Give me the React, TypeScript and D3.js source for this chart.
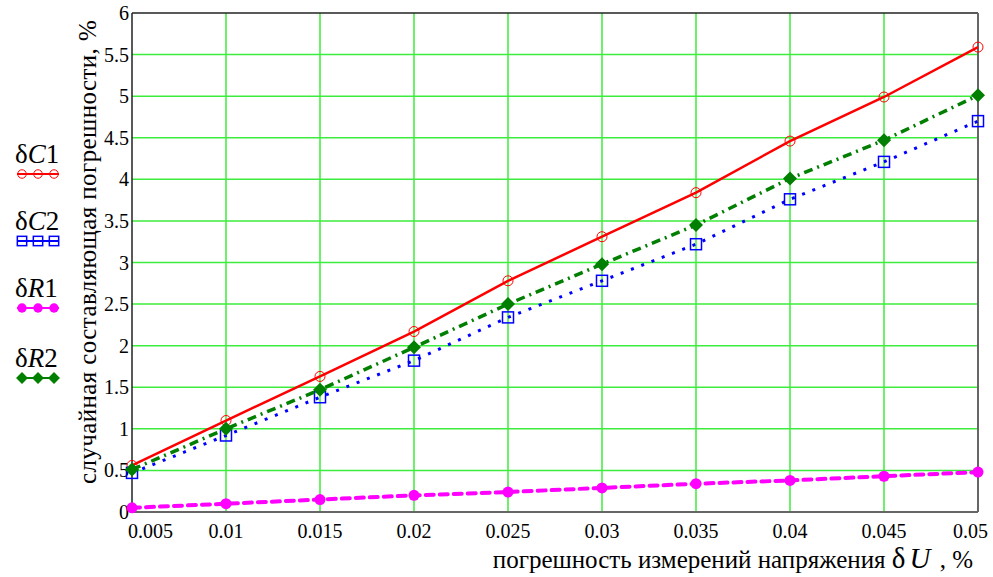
import { useEffect, useRef } from 'react';
import * as d3 from 'd3';

// values
const xValues = [0.005, 0.01, 0.015, 0.02, 0.025, 0.03, 0.035, 0.04, 0.045, 0.05];
const dC1 = [0.56, 1.1, 1.63, 2.17, 2.78, 3.31, 3.84, 4.46, 4.99, 5.59];
const dC2 = [0.47, 0.92, 1.38, 1.82, 2.34, 2.78, 3.22, 3.76, 4.21, 4.7];
const dR1 = [0.05, 0.1, 0.15, 0.2, 0.24, 0.29, 0.34, 0.38, 0.43, 0.48];
const dR2 = [0.51, 1.0, 1.47, 1.98, 2.5, 2.98, 3.45, 4.01, 4.47, 5.01];
const xTicks = [0.005, 0.01, 0.015, 0.02, 0.025, 0.03, 0.035, 0.04, 0.045, 0.05];
const yTicks = [0, 0.5, 1, 1.5, 2, 2.5, 3, 3.5, 4, 4.5, 5, 5.5, 6];

const FONT = "'Times New Roman', 'Liberation Serif', 'DejaVu Serif', serif";

const SERIES = [
    { name: 'C', idx: '1', values: dC1, color: '#ff0000', dash: null, width: 2.5, marker: 'circle' },
    { name: 'C', idx: '2', values: dC2, color: '#0000ff', dash: '3 8', width: 3, marker: 'square' },
    { name: 'R', idx: '1', values: dR1, color: '#ff00ff', dash: '8 6', width: 4, marker: 'dot' },
    { name: 'R', idx: '2', values: dR2, color: '#007f00', dash: '9 5 2 5', width: 3.5, marker: 'diamond' },
];

function drawMarker(g: any, type: string, x: number, y: number, color: string, s = 1) {
    if (type === 'circle') {
        g.append('circle').attr('cx', x).attr('cy', y).attr('r', 5 * s)
            .attr('fill', 'none').attr('stroke', color).attr('stroke-width', 1);
    } else if (type === 'square') {
        const h = 5.5 * s;
        g.append('rect').attr('x', x - h).attr('y', y - h).attr('width', 2 * h).attr('height', 2 * h)
            .attr('fill', 'none').attr('stroke', color).attr('stroke-width', 1.5);
    } else if (type === 'dot') {
        g.append('circle').attr('cx', x).attr('cy', y).attr('r', 5.5 * s).attr('fill', color);
    } else {
        const h = 7 * s;
        g.append('path')
            .attr('d', `M${x},${y - h}L${x + h},${y}L${x},${y + h}L${x - h},${y}Z`)
            .attr('fill', color);
    }
}

export default function App() {
    const svgRef = useRef<SVGSVGElement>(null);

    useEffect(() => {
        const svg = d3.select(svgRef.current);
        svg.selectAll('*').remove();

        const x = d3.scaleLinear().domain([0.005, 0.05]).range([132, 978]);
        const y = d3.scaleLinear().domain([0, 6]).range([512, 13]);

        svg.append('rect').attr('width', 993).attr('height', 577).attr('fill', '#fff');

        // grid
        const grid = svg.append('g');
        grid.selectAll('.gx').data(xTicks.slice(1, -1)).enter().append('line')
            .attr('x1', d => x(d)).attr('x2', d => x(d)).attr('y1', y(0)).attr('y2', y(6))
            .attr('stroke', '#3ded3d').attr('stroke-width', 1.5);
        grid.selectAll('.gy').data(yTicks.slice(1, -1)).enter().append('line')
            .attr('x1', x(0.005)).attr('x2', x(0.05)).attr('y1', d => y(d)).attr('y2', d => y(d))
            .attr('stroke', '#3ded3d').attr('stroke-width', 1.5);

        // frame
        svg.append('line').attr('x1', 132).attr('x2', 978).attr('y1', y(6)).attr('y2', y(6))
            .attr('stroke', '#222').attr('stroke-width', 1.5);
        svg.append('line').attr('x1', 132).attr('x2', 132).attr('y1', y(6)).attr('y2', y(0))
            .attr('stroke', '#222').attr('stroke-width', 1.5);
        svg.append('line').attr('x1', 978).attr('x2', 978).attr('y1', y(6)).attr('y2', y(0))
            .attr('stroke', '#666').attr('stroke-width', 2);
        svg.append('line').attr('x1', 132).attr('x2', 978).attr('y1', y(0)).attr('y2', y(0))
            .attr('stroke', '#666').attr('stroke-width', 2);

        // tick labels
        svg.selectAll('.ty').data(yTicks).enter().append('text')
            .attr('x', 129).attr('y', d => y(d) + 7)
            .attr('text-anchor', 'end')
            .style('font-family', FONT).attr('font-size', 20).attr('fill', '#000')
            .text(d => String(d));
        // end labels are pulled inward so they clear the corner / page edge
        const last = xTicks.length - 1;
        svg.selectAll('.tx').data(xTicks).enter().append('text')
            .attr('x', (d, i) => (i === 0 ? x(d) - 4 : i === last ? x(d) + 10 : x(d)))
            .attr('y', 538)
            .attr('text-anchor', (d, i) => (i === 0 ? 'start' : i === last ? 'end' : 'middle'))
            .style('font-family', FONT).attr('font-size', 20).attr('fill', '#000')
            .text(d => String(d));

        // axis titles
        svg.append('text')
            .attr('transform', 'translate(96,252) rotate(-90)')
            .attr('text-anchor', 'middle')
            .attr('letter-spacing', 0.4)
            .style('font-family', FONT).attr('font-size', 25).attr('fill', '#000')
            .text('случайная составляющая погрешности, %');

        const xt = svg.append('text').attr('x', 973).attr('y', 568).attr('text-anchor', 'end')
            .style('font-family', FONT).attr('font-size', 25).attr('fill', '#000');
        xt.append('tspan').text('погрешность измерений напряжения ');
        xt.append('tspan').attr('font-size', 29).text('δ');
        xt.append('tspan').attr('font-size', 29).attr('font-style', 'italic').attr('dx', 4).text('U');
        xt.append('tspan').attr('dx', 3).text(' , %');

        // series
        const plot = svg.append('g');
        SERIES.forEach(s => {
            const pts = xValues.map((xv, i) => [x(xv), y(s.values[i])] as [number, number]);
            plot.append('path')
                .attr('d', d3.line()(pts))
                .attr('fill', 'none')
                .attr('stroke', s.color)
                .attr('stroke-width', s.width)
                .attr('stroke-dasharray', s.dash)
                .attr('stroke-linecap', s.marker === 'dot' ? 'round' : 'butt');
            pts.forEach(p => drawMarker(plot, s.marker, p[0], p[1], s.color));
        });

        // legend
        const legendY = [163, 230, 297, 367];
        const legend = svg.append('g');
        SERIES.forEach((s, i) => {
            const t = legend.append('text').attr('x', 15).attr('y', legendY[i])
                .style('font-family', FONT).attr('font-size', 27).attr('fill', '#000');
            t.append('tspan').text('δ');
            t.append('tspan').attr('font-style', 'italic').text(s.name);
            t.append('tspan').text(s.idx);
            const ly = legendY[i] + 11;
            legend.append('line').attr('x1', 17).attr('x2', 59).attr('y1', ly).attr('y2', ly)
                .attr('stroke', s.color).attr('stroke-width', 2);
            [22, 38, 54].forEach(mx => drawMarker(legend, s.marker, mx, ly, s.color, 0.85));
        });
    }, []);

    return (
        <svg
            ref={svgRef}
            width={993}
            height={577}
            style={{ position: 'absolute', left: 0, top: 0 }}
        />
    );
}
